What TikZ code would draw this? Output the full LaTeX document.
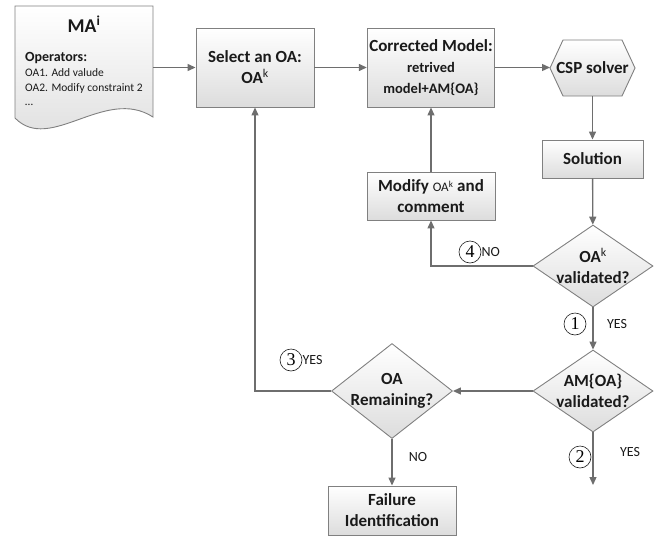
\documentclass[tikz,border=0pt]{standalone}
\usepackage{fontspec}
\setmainfont{Carlito}
\newfontfamily\numfont{Liberation Serif}
\usetikzlibrary{shapes.geometric, positioning, arrows.meta}

\definecolor{boxgray}{HTML}{808080}
\definecolor{linegray}{HTML}{6E6E6E}
\definecolor{textblack}{HTML}{1A1A1A}

\begin{document}
\begin{tikzpicture}[x=1pt, y=-1pt]
    \tikzstyle{box}=[
        draw = boxgray,
        line width = 0.9pt,
        top color = white,
        bottom color = gray!27,
        text = textblack,
        font = \fontsize{17}{21}\selectfont\bfseries,
        align = center,
        inner sep = 2pt,
        rectangle
    ]
    \tikzstyle{decision}=[
        draw = boxgray,
        line width = 0.9pt,
        top color = white,
        bottom color = gray!27,
        text = textblack,
        font = \fontsize{17}{21}\selectfont\bfseries,
        align = center,
        inner xsep = -8pt,
        inner ysep = -4pt,
        diamond
    ]
    \tikzstyle{flow}=[
        draw = linegray,
        line width = 1.3pt,
        -{Triangle[length=8pt, width=7pt]}
    ]
    \tikzstyle{num}=[
        draw = textblack,
        line width = 0.6pt,
        circle,
        minimum size = 22pt,
        inner sep = 0pt,
        font = \numfont\fontsize{18}{18}\selectfont
    ]
    \tikzstyle{answer}=[
        text = textblack,
        inner sep = 0pt,
        font = \fontsize{14}{16}\selectfont
    ]

    \useasboundingbox (0,0) rectangle (659,536);

    \draw[draw = boxgray, line width = 0.9pt, top color = white, bottom color = gray!27]
        (15,6) -- (153,6) -- (153,117) .. controls (105,86) and (50,154) .. (15,118) -- cycle;
    \node[text = textblack, font = \fontsize{19.5}{22}\selectfont\bfseries] (ma) at (84,24) {MA\textsuperscript{i}};
    \node[answer, anchor = base west, font = \fontsize{14}{16}\selectfont\bfseries] (ops) at (25,61) {Operators:};
    \node[answer, anchor = base west, font = \fontsize{11.5}{14}\selectfont] (opa) at (25,76) {OA1. Add valude};
    \node[answer, anchor = base west, font = \fontsize{11.5}{14}\selectfont] (opb) at (25,91) {OA2. Modify constraint 2};
    \node[answer, anchor = base west, font = \fontsize{11.5}{14}\selectfont] (opc) at (25,105) {\dots};
    \coordinate (doc) at (153,67.5);

    \node[box, minimum width = 118pt, minimum height = 79pt] (sel) at (255,67.5)
        {Select an OA:\\OA{\mdseries\textsuperscript{k}}};
    \node[box, minimum width = 126pt, minimum height = 79pt] (cor) at (431,67.5)
        {Corrected Model:\\{\fontsize{14.5}{21}\selectfont retrived}\\{\fontsize{14.5}{21}\selectfont model+AM\{OA\}}};
    \path[draw = boxgray, line width = 0.9pt, top color = white, bottom color = gray!27]
        (550,68) -- (563,40) -- (622,40) -- (635,68) -- (622,96) -- (563,96) -- cycle;
    \node[text = textblack, font = \fontsize{17}{21}\selectfont\bfseries, minimum height = 56pt] (csp) at (592.5,68) {CSP solver};
    \coordinate (cspw) at (550,67.5);
    \node[box, minimum width = 101pt, minimum height = 38pt] (sol) at (592.5,159) {Solution};
    \node[box, minimum width = 128pt, minimum height = 48pt] (mod) at (431,196)
        {Modify {\fontsize{13}{21}\selectfont\mdseries OA\textsuperscript{k}} and\\comment};
    \node[decision, aspect = 1.46, minimum width = 120pt, minimum height = 82pt] (okv) at (593,266)
        {OA{\mdseries\textsuperscript{k}}\\validated?};
    \node[decision, aspect = 1.46, minimum width = 120pt, minimum height = 82pt] (amv) at (593,391)
        {AM\{OA\}\\validated?};
    \node[decision, aspect = 1.27, minimum width = 121pt, minimum height = 95pt] (rem) at (392,391)
        {OA\\Remaining?};
    \node[box, minimum width = 128pt, minimum height = 49pt] (fail) at (392,510.5)
        {Failure\\Identification};
    \coordinate (out) at (593,485);

    \node[num] (n1) at (575,324) {1};
    \node[answer] (y1) at (617,324) {YES};
    \node[num] (n2) at (580,457) {2};
    \node[answer] (y2) at (630,452) {YES};
    \node[num] (n3) at (291,360) {3};
    \node[answer, right = 0pt of n3] (y3) {YES};
    \node[num] (n4) at (470,252) {4};
    \node[answer, right = 0pt of n4] (no4) {NO};
    \node[answer] (no5) at (418,457) {NO};

    \draw[flow] (doc) -- (sel.west);
    \draw[flow] (sel) -- (cor);
    \draw[flow] (cor) -- (cspw);
    \draw[flow] (csp) -- (sol);
    \draw[flow] (sol) -- (okv);
    \draw[flow] (okv) -- (amv);
    \draw[flow] (amv) -- (rem);
    \draw[flow] (amv) -- (out);
    \draw[flow] (rem) -- (fail);
    \draw[flow] (mod) -- (cor);
    \draw[flow] (okv.west) -| (mod.south);
    \draw[flow] (rem.west) -| (sel.south);

\end{tikzpicture}
\end{document}
